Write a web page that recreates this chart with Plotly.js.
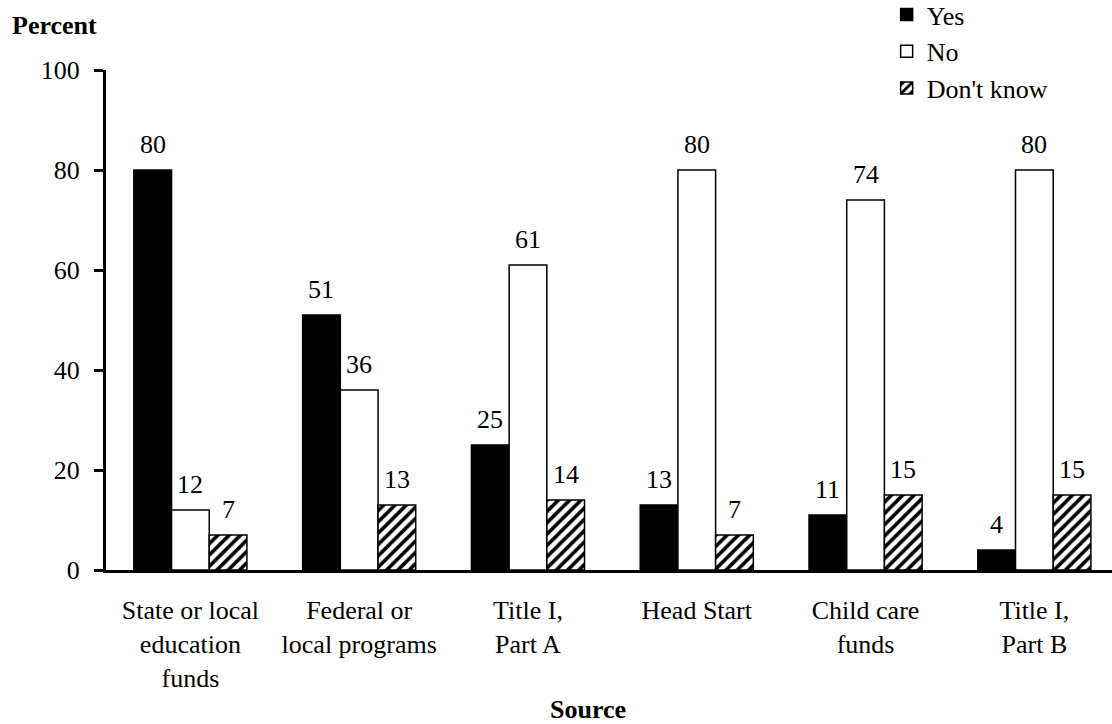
<!DOCTYPE html>
<html>
<head>
<meta charset="utf-8">
<script src="https://cdn.plot.ly/plotly-3.0.1.min.js"></script>
<style>
html,body{margin:0;padding:0;background:#fff;}
#chart{width:1112px;height:724px;}
</style>
</head>
<body>
<div id="chart"></div>
<script>
const categories = [
  "State or local<br>education<br>funds",
  "Federal or<br>local programs",
  "Title I,<br>Part A",
  "Head Start",
  "Child care<br>funds",
  "Title I,<br>Part B"
];
const seriesNames = ["Yes", "No", "Don't know"];
const yesValues = [80, 51, 25, 13, 11, 4];
const noValues = [12, 36, 61, 80, 74, 80];
const dontKnowValues = [7, 13, 14, 7, 15, 15];
const yTicks = [0, 20, 40, 60, 80, 100];

const FONT = "Liberation Serif";
const FS = 26;

const W = 1112, H = 724;
const M = {l: 106, r: 0, t: 70, b: 154};
const XRANGE = [-0.5, 5.46];
const BARGAP = 0.33;

function barTrace(name, vals, marker) {
  return {
    type: "bar",
    name: name,
    x: categories,
    y: vals,
    marker: marker,
    hoverinfo: "skip"
  };
}

const allSeries = [yesValues, noValues, dontKnowValues];

const data = [
  barTrace(seriesNames[0], yesValues, {color: "#000", line: {color: "#000", width: 1.5}}),
  barTrace(seriesNames[1], noValues, {color: "#fff", line: {color: "#000", width: 1.5}}),
  barTrace(seriesNames[2], dontKnowValues, {
    color: "#fff",
    line: {color: "#000", width: 1.5},
    pattern: {shape: "/", fgcolor: "#000", bgcolor: "#fff", size: 8, solidity: 0.45}
  })
];

// value labels above each bar, shifted to the bar's slot within its group
const pxPerCat = (W - M.l - M.r) / (XRANGE[1] - XRANGE[0]);
const barPx = pxPerCat * (1 - BARGAP) / allSeries.length;
const valueLabels = [];
allSeries.forEach((vals, si) => {
  vals.forEach((v, ci) => {
    valueLabels.push({
      text: String(v), x: categories[ci], y: v, xref: "x", yref: "y",
      xshift: (si - (allSeries.length - 1) / 2) * barPx,
      yshift: 9, xanchor: "center", yanchor: "bottom", showarrow: false,
      font: {family: FONT, size: FS, color: "#000"}
    });
  });
});

const layout = {
  width: W,
  height: H,
  margin: {l: M.l, r: M.r, t: M.t, b: M.b, autoexpand: false},
  paper_bgcolor: "#fff",
  plot_bgcolor: "#fff",
  font: {family: FONT, size: FS, color: "#000"},
  barmode: "group",
  bargap: BARGAP,
  bargroupgap: 0,
  showlegend: true,
  legend: {
    x: 0.776, xanchor: "left",
    y: 1.158, yanchor: "top",
    font: {family: FONT, size: FS, color: "#000"},
    bgcolor: "rgba(0,0,0,0)"
  },
  xaxis: {
    type: "category",
    range: XRANGE,
    showline: true,
    linecolor: "#000",
    linewidth: 3,
    ticks: "",
    showgrid: false,
    zeroline: false,
    ticklabelstandoff: 15,
    tickfont: {family: FONT, size: FS, color: "#000"}
  },
  yaxis: {
    range: [0, 100],
    tickvals: yTicks,
    ticktext: yTicks.map(String),
    showline: true,
    linecolor: "#000",
    linewidth: 3,
    ticks: "outside",
    ticklen: 9,
    tickwidth: 3,
    tickcolor: "#000",
    showgrid: false,
    zeroline: false,
    ticklabelstandoff: 9,
    tickfont: {family: FONT, size: FS, color: "#000"}
  },
  annotations: valueLabels.concat([
    {text: "<b>Percent</b>", xref: "paper", yref: "paper", x: -0.0512, y: 1.088,
     xanchor: "center", yanchor: "middle", showarrow: false,
     font: {family: FONT, size: FS, color: "#000"}},
    {text: "<b>Source</b>", xref: "paper", yref: "paper", x: 0.479, y: -0.278,
     xanchor: "center", yanchor: "middle", showarrow: false,
     font: {family: FONT, size: FS, color: "#000"}}
  ])
};

Plotly.newPlot("chart", data, layout, {staticPlot: true, displayModeBar: false});
</script>
</body>
</html>
